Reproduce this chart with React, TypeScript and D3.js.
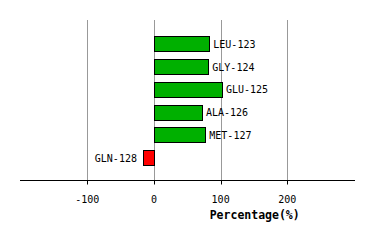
import React from "react";
import * as d3 from "d3";

const residues = ["LEU-123", "GLY-124", "GLU-125", "ALA-126", "MET-127", "GLN-128"];
const percentages = [83, 81.5, 102, 72, 77, -16.5];
const ticks = [-100, 0, 100, 200];
const axisTitle = "Percentage(%)";

export default function App() {
  const W = 374, H = 240;
  const x = d3.scaleLinear().domain([-200, 300]).range([20.6, 354]);
  const y = d3.scaleBand<string>().domain(residues).range([32.5, 169]).paddingInner(0.34).paddingOuter(0.17);
  const axisY = 180.5;
  const font = "'DejaVu Sans Mono', monospace";
  return (
    <svg width={W} height={H} style={{ position: "absolute", left: 0, top: 0, background: "#fff" }}>
      <rect x={0} y={0} width={W} height={H} fill="#fff" />
      {ticks.map((t) => (
        <line key={"g" + t} x1={Math.round(x(t)) + 0.5} x2={Math.round(x(t)) + 0.5} y1={20} y2={axisY} stroke="#999" strokeWidth={1} />
      ))}
      {residues.map((r, i) => {
        const v = percentages[i];
        const x0 = x(Math.min(0, v));
        const x1 = x(Math.max(0, v));
        const by = y(r)!;
        const bh = y.bandwidth();
        return (
          <g key={r}>
            <rect x={Math.round(x0) + 0.5} y={Math.round(by) + 0.5} width={Math.round(x1 - x0)} height={Math.round(bh)} fill={v >= 0 ? "#00b000" : "#ff0000"} stroke="#000" strokeWidth={1} />
            <text
              x={v >= 0 ? x1 + 4 : x0 - 6}
              y={by + bh / 2 + 4}
              textAnchor={v >= 0 ? "start" : "end"}
              fontFamily={font}
              fontSize={10}
              fill="#000"
            >
              {r}
            </text>
          </g>
        );
      })}
      <line x1={20} x2={355} y1={axisY} y2={axisY} stroke="#000" strokeWidth={1} />
      {ticks.map((t) => (
        <g key={"t" + t}>
          <line x1={Math.round(x(t)) + 0.5} x2={Math.round(x(t)) + 0.5} y1={axisY} y2={axisY + 4} stroke="#000" strokeWidth={1} />
          <text x={x(t)} y={203} textAnchor="middle" fontFamily={font} fontSize={10} fill="#000">
            {t}
          </text>
        </g>
      ))}
      <text x={254.7} y={219} textAnchor="middle" fontFamily={font} fontSize={11.5} fontWeight="bold" fill="#000">
        {axisTitle}
      </text>
    </svg>
  );
}
